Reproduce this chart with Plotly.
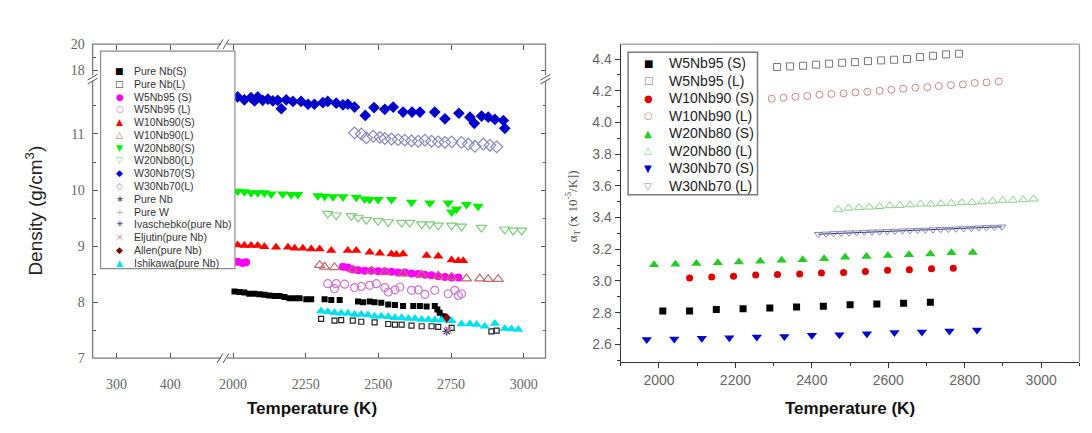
import plotly.graph_objects as go

# ---------------- data: left panel (density) ----------------
pureNb_S_T = [2005,2022,2039,2056,2074,2091,2108,2125,2143,2160,2177,2194,2212,2229,2252,2269,2315,2338,2367,2430,2447,2470,2487,2510,2534,2557,2585,2620,2643,2666,2694,2703,2711,2723,2729]
pureNb_S_D = [8.19,8.18,8.17,8.15,8.15,8.14,8.13,8.12,8.11,8.11,8.09,8.07,8.07,8.07,8.05,8.05,8.05,8.04,8.04,8.01,8.00,8.01,8.00,7.99,7.96,7.95,7.93,7.93,7.93,7.92,7.93,7.87,7.81,7.75,7.72]
pureNb_L_T = [2303,2349,2372,2412,2441,2487,2534,2557,2580,2614,2649,2683,2706,2752,2889,2907]
pureNb_L_D = [7.70,7.67,7.68,7.67,7.65,7.64,7.61,7.60,7.60,7.58,7.57,7.57,7.56,7.54,7.48,7.49]
w5_S_T = [2016,2033,2045,2378,2395,2412,2430,2453,2476,2499,2522,2545,2568,2591,2614,2637,2660,2683,2706,2729,2752,2775]
w5_S_D = [8.72,8.70,8.71,8.63,8.62,8.58,8.57,8.56,8.56,8.55,8.55,8.54,8.53,8.53,8.51,8.50,8.49,8.48,8.46,8.45,8.44,8.44]
w5_L_T = [2326,2349,2355,2384,2418,2441,2470,2493,2522,2534,2557,2574,2614,2637,2660,2694,2740,2763,2775,2786]
w5_L_D = [8.33,8.24,8.33,8.32,8.26,8.28,8.30,8.33,8.26,8.18,8.22,8.27,8.21,8.22,8.14,8.21,8.15,8.21,8.12,8.15]
w10_S_T = [2016,2039,2062,2085,2108,2148,2189,2212,2240,2269,2298,2338,2395,2424,2470,2505,2545,2562,2585,2666,2706,2752,2775,2792]
w10_S_D = [9.02,9.01,9.01,9.01,8.99,8.98,8.98,8.96,8.96,8.95,8.95,8.92,8.92,8.92,8.89,8.87,8.86,8.85,8.86,8.83,8.82,8.75,8.74,8.74]
w10_L_T = [2298,2315,2349,2412,2476,2522,2585,2649,2706,2752,2803,2849,2878,2912]
w10_L_D = [8.66,8.63,8.62,8.58,8.56,8.53,8.51,8.49,8.47,8.45,8.42,8.42,8.41,8.41]
w20_S_T = [2016,2039,2062,2085,2108,2131,2171,2200,2223,2292,2315,2344,2378,2424,2453,2470,2499,2545,2614,2677,2740,2752,2769,2803,2843]
w20_S_D = [9.98,9.97,9.95,9.95,9.95,9.93,9.93,9.92,9.92,9.90,9.89,9.88,9.88,9.87,9.84,9.83,9.83,9.83,9.78,9.77,9.77,9.61,9.66,9.74,9.71]
w20_L_T = [2326,2355,2407,2430,2459,2499,2534,2580,2608,2649,2677,2706,2752,2786,2855,2935,2964,2993]
w20_L_D = [9.58,9.55,9.54,9.51,9.47,9.45,9.43,9.42,9.42,9.39,9.39,9.37,9.37,9.35,9.33,9.30,9.28,9.28]
w30_S_T = [2016,2039,2062,2074,2085,2102,2120,2137,2154,2166,2183,2206,2234,2258,2280,2309,2326,2355,2378,2395,2418,2455,2485,2522,2551,2585,2616,2643,2694,2729,2777,2815,2830,2855,2878,2901,2930,2935]
w30_S_D = [11.66,11.61,11.65,11.59,11.66,11.60,11.62,11.59,11.60,11.45,11.61,11.58,11.58,11.53,11.53,11.56,11.58,11.55,11.52,11.53,11.48,11.33,11.47,11.44,11.48,11.39,11.39,11.39,11.39,11.27,11.37,11.30,11.19,11.32,11.30,11.26,11.24,11.10]
w30_L_T = [2418,2441,2459,2482,2505,2522,2545,2568,2591,2614,2637,2660,2683,2706,2729,2752,2786,2809,2832,2861,2884,2907]
w30_L_D = [11.02,11.00,10.93,10.96,10.94,10.92,10.91,10.90,10.89,10.88,10.87,10.89,10.87,10.86,10.85,10.86,10.85,10.82,10.78,10.82,10.80,10.77]
ivaschenko_T = [2735]
ivaschenko_D = [7.48]
eljutin_T = [2741]
eljutin_D = [7.50]
allen_T = [2735]
allen_D = [7.71]
ishikawa_T = [2303,2326,2349,2372,2395,2418,2441,2464,2487,2510,2534,2557,2580,2603,2626,2649,2672,2694,2717,2752,2786,2815,2838,2866,2901,2935,2958,2981]
ishikawa_D = [7.84,7.83,7.81,7.80,7.80,7.78,7.78,7.77,7.75,7.75,7.74,7.72,7.72,7.71,7.71,7.69,7.69,7.68,7.68,7.67,7.61,7.61,7.60,7.57,7.62,7.53,7.52,7.51]

# ---------------- data: right panel (alpha_T) ----------------
r_w5_S_T = [2010,2080,2150,2220,2290,2360,2430,2500,2570,2640,2710]
r_w5_S = [2.81,2.81,2.82,2.825,2.83,2.835,2.84,2.85,2.855,2.86,2.865]
r_w5_L_T = [2309,2343,2377,2411,2445,2479,2513,2547,2581,2615,2649,2683,2717,2751,2785]
r_w5_L = [4.35,4.354,4.358,4.365,4.371,4.377,4.381,4.387,4.392,4.396,4.40,4.413,4.421,4.43,4.434]
r_w10_S_T = [2080,2138,2195,2253,2310,2368,2425,2483,2540,2598,2655,2713,2770]
r_w10_S = [3.018,3.025,3.03,3.037,3.04,3.044,3.05,3.054,3.06,3.067,3.07,3.077,3.08]
r_w10_L_T = [2295,2326,2357,2388,2420,2451,2483,2514,2545,2577,2608,2639,2671,2702,2732,2764,2795,2826,2857,2889]
r_w10_L = [4.15,4.156,4.163,4.167,4.175,4.18,4.184,4.19,4.194,4.20,4.207,4.213,4.22,4.223,4.23,4.236,4.24,4.249,4.253,4.259]
r_w20_S_T = [1987,2043,2098,2154,2209,2265,2321,2376,2432,2487,2543,2599,2654,2710,2765,2821]
r_w20_S = [3.103,3.105,3.11,3.115,3.12,3.125,3.13,3.134,3.14,3.15,3.155,3.16,3.166,3.17,3.178,3.18]
r_w20_L_T = [2469,2496,2523,2550,2577,2604,2630,2657,2684,2711,2738,2765,2792,2819,2846,2873,2899,2926,2953,2980]
r_w20_L = [3.452,3.46,3.464,3.466,3.47,3.475,3.477,3.481,3.485,3.485,3.488,3.49,3.494,3.496,3.50,3.504,3.509,3.509,3.513,3.517]
r_w30_S_T = [1968,2040,2112,2184,2256,2328,2400,2472,2544,2616,2688,2760,2832]
r_w30_S = [2.63,2.634,2.638,2.642,2.646,2.65,2.657,2.66,2.667,2.674,2.678,2.684,2.69]
r_w30_L_T = [2417,2437,2457,2477,2497,2517,2537,2557,2577,2597,2617,2637,2657,2677,2697,2717,2737,2757,2777,2797,2817,2837,2857,2877,2897]
r_w30_L = [3.295,3.297,3.300,3.302,3.304,3.305,3.308,3.310,3.311,3.313,3.315,3.317,3.318,3.320,3.322,3.324,3.326,3.327,3.329,3.331,3.333,3.336,3.338,3.340,3.342]

# ---------------- geometry (pixels inside the figure) ----------------
# figure kept a little smaller than the window so that the page's default
# body margin never produces scrollbars
W, H = 1076, 417
def fx(p): return p / W
def fy(p): return 1 - p / H

LX0, LXB, LX1 = 80, 212, 535
LY0, LYB, LY1 = 30.3, 65.5, 356
RX0, RX1, RY0, RY1 = 610.6, 1071.4, 30.3, 360.2

GLYPH = {"square": "■", "square-open": "□", "circle": "●", "circle-open": "○",
         "triangle-up": "▲", "triangle-up-open": "△", "triangle-down": "▼",
         "triangle-down-open": "▽", "diamond": "◆", "diamond-open": "◇",
         "star": "★", "cross-thin-open": "+", "asterisk-open": "✳", "x-thin-open": "×"}

left_series = [
    ("Pure Nb(S)", pureNb_S_T, pureNb_S_D, "square", "#000000", 6),
    ("Pure Nb(L)", pureNb_L_T, pureNb_L_D, "square-open", "#222222", 5),
    ("W5Nb95 (S)", w5_S_T, w5_S_D, "circle", "#ff00ff", 8),
    ("W5Nb95 (L)", w5_L_T, w5_L_D, "circle-open", "#cc77cc", 8),
    ("W10Nb90(S)", w10_S_T, w10_S_D, "triangle-up", "#ff0000", 9),
    ("W10Nb90(L)", w10_L_T, w10_L_D, "triangle-up-open", "#c06a6a", 9),
    ("W20Nb80(S)", w20_S_T, w20_S_D, "triangle-down", "#00ee00", 10),
    ("W20Nb80(L)", w20_L_T, w20_L_D, "triangle-down-open", "#7ccc7c", 9),
    ("W30Nb70(S)", w30_S_T, w30_S_D, "diamond", "#0000cc", 9),
    ("W30Nb70(L)", w30_L_T, w30_L_D, "diamond-open", "#8888bb", 9),
    ("Pure Nb", [], [], "star", "#666666", 7),
    ("Pure W", [], [], "cross-thin-open", "#aaaaaa", 7),
    ("Ivaschebko(pure Nb)", ivaschenko_T, ivaschenko_D, "asterisk-open", "#333377", 7),
    ("Eljutin(pure Nb)", eljutin_T, eljutin_D, "x-thin-open", "#cc8888", 7),
    ("Allen(pure Nb)", allen_T, allen_D, "diamond", "#800000", 8),
    ("Ishikawa(pure Nb)", ishikawa_T, ishikawa_D, "triangle-up", "#00e0f0", 9),
]

right_series = [
    ("W5Nb95 (S)", r_w5_S_T, r_w5_S, "square", "#000000", 7),
    ("W5Nb95 (L)", r_w5_L_T, r_w5_L, "square-open", "#777777", 7),
    ("W10Nb90 (S)", r_w10_S_T, r_w10_S, "circle", "#dd0000", 7),
    ("W10Nb90 (L)", r_w10_L_T, r_w10_L, "circle-open", "#c08888", 7),
    ("W20Nb80 (S)", r_w20_S_T, r_w20_S, "triangle-up", "#22cc22", 9),
    ("W20Nb80 (L)", r_w20_L_T, r_w20_L, "triangle-up-open", "#88d088", 8),
    ("W30Nb70 (S)", r_w30_S_T, r_w30_S, "triangle-down", "#0000cc", 9),
    ("W30Nb70 (L)", r_w30_L_T, r_w30_L, "triangle-down-open", "#8888bb", 7),
]

fig = go.Figure()

# empty traces that create the broken-axis subplots
for xa, ya in [("x2", "y2"), ("x3", "y3"), ("x4", "y4")]:
    fig.add_trace(go.Scatter(x=[], y=[], xaxis=xa, yaxis=ya, showlegend=False, hoverinfo="skip"))

for name, T, D, sym, col, sz in left_series:
    if not T:
        continue
    op = sym.endswith("open")
    fig.add_trace(go.Scatter(
        x=T, y=D, mode="markers", name=name, showlegend=False, xaxis="x", yaxis="y",
        marker=dict(symbol=sym, size=sz, color=col,
                    line=dict(width=1.2 if op else 0, color=col))))

# fit line through W30Nb70 (L)
fig.add_trace(go.Scatter(x=r_w30_L_T, y=r_w30_L, mode="lines", showlegend=False,
                         line=dict(color="#2a2a70", width=1), xaxis="x5", yaxis="y5"))
for name, T, D, sym, col, sz in right_series:
    op = sym.endswith("open")
    fig.add_trace(go.Scatter(
        x=T, y=D, mode="markers", name=name, showlegend=False, xaxis="x5", yaxis="y5",
        marker=dict(symbol=sym, size=sz, color=col,
                    line=dict(width=1.0 if op else 0, color=col))))

serif = dict(family="Liberation Serif", size=14, color="#666666")
sans_tick = dict(family="Liberation Sans", size=14, color="#666666")
common = dict(showgrid=False, zeroline=False, showline=False)

xB_range = [1969, 3075]
xA_range = [255.6, 500]
yL_range = [7, 11.996]
yU_range = [17.38, 20]
xB_ticks = [2000, 2250, 2500, 2750, 3000]
xA_ticks = [300, 400]
yL_ticks = [7, 8, 9, 10, 11]
yL_minor = [7.5, 8.5, 9.5, 10.5, 11.5]
yU_ticks = [18, 20]
yU_minor = [19]

fig.update_layout(
    width=W, height=H, margin=dict(l=0, r=0, t=0, b=0),
    paper_bgcolor="white", plot_bgcolor="white", showlegend=False,
    xaxis=dict(domain=[fx(LXB), fx(LX1)], anchor="y", range=xB_range,
               tickvals=xB_ticks, ticks="inside", ticklen=5,
               tickcolor="#555", tickfont=serif, ticklabelstandoff=16, **common),
    xaxis2=dict(domain=[fx(LX0), fx(LXB)], anchor="y", range=xA_range,
                tickvals=xA_ticks, ticks="inside", ticklen=5, tickcolor="#555",
                tickfont=serif, ticklabelstandoff=16, **common),
    xaxis3=dict(overlaying="x", side="top", anchor="free", position=fy(LY0),
                range=xB_range, tickvals=xB_ticks,
                ticks="inside", ticklen=5, tickcolor="#555", showticklabels=False, **common),
    xaxis4=dict(overlaying="x2", side="top", anchor="free", position=fy(LY0),
                range=xA_range, tickvals=xA_ticks, ticks="inside", ticklen=5,
                tickcolor="#555", showticklabels=False, **common),
    yaxis=dict(domain=[fy(LY1), fy(LYB)], anchor="x2", range=yL_range,
               tickvals=yL_ticks, ticks="inside", ticklen=5, tickcolor="#555",
               minor=dict(ticks="inside", ticklen=3, tickvals=yL_minor, tickcolor="#555"),
               tickfont=serif, ticklabelstandoff=7, **common),
    yaxis2=dict(domain=[fy(LYB), fy(LY0)], anchor="x2", range=yU_range,
                tickvals=yU_ticks, ticks="inside", ticklen=5, tickcolor="#555",
                minor=dict(ticks="inside", ticklen=3, tickvals=yU_minor, tickcolor="#555"),
                tickfont=serif, ticklabelstandoff=7, **common),
    yaxis3=dict(overlaying="y", side="right", anchor="free", position=fx(LX1),
                range=yL_range, tickvals=yL_ticks, ticks="inside", ticklen=5,
                tickcolor="#555", showticklabels=False,
                minor=dict(ticks="inside", ticklen=3, tickvals=yL_minor, tickcolor="#555"),
                **common),
    yaxis4=dict(overlaying="y2", side="right", anchor="free", position=fx(LX1),
                range=yU_range, tickvals=yU_ticks, ticks="inside", ticklen=5,
                tickcolor="#555", showticklabels=False, **common),
    xaxis5=dict(domain=[fx(RX0), fx(RX1)], anchor="y5", range=[1900, 3100],
                tick0=2000, dtick=200, ticks="outside", ticklen=5, tickcolor="#333",
                minor=dict(ticks="outside", ticklen=3, dtick=100, tickcolor="#333"),
                showline=True, linecolor="#333", linewidth=1.3,
                showgrid=False, zeroline=False, tickfont=sans_tick),
    yaxis5=dict(domain=[fy(RY1), fy(RY0)], anchor="x5", range=[2.487, 4.494],
                tick0=2.6, dtick=0.2, tickformat=".1f", ticks="outside", ticklen=5,
                tickcolor="#333",
                minor=dict(ticks="outside", ticklen=3, dtick=0.1, tickcolor="#333"),
                showline=True, linecolor="#333", linewidth=1.3,
                showgrid=False, zeroline=False, tickfont=sans_tick),
)

shapes = []
def rect(x0, y0, x1, y1, color, width, fill=None, layer="above"):
    shapes.append(dict(type="rect", xref="paper", yref="paper",
                       x0=fx(x0), x1=fx(x1), y0=fy(y1), y1=fy(y0),
                       line=dict(color=color, width=width),
                       fillcolor=fill if fill else "rgba(0,0,0,0)", layer=layer))
def seg(x0, y0, x1, y1, color="#555", width=1):
    shapes.append(dict(type="line", xref="paper", yref="paper",
                       x0=fx(x0), y0=fy(y0), x1=fx(x1), y1=fy(y1),
                       line=dict(color=color, width=width), layer="above"))

# frames
rect(LX0, LY0, LX1, LY1, "#7a7a7a", 1.3)
seg(RX0, RY0, RX1, RY0, "#9a9a9a", 1.3)
seg(RX1, RY0, RX1, RY1, "#9a9a9a", 1.3)

# axis break marks
def brk_h(x, y):
    shapes.append(dict(type="rect", xref="paper", yref="paper", x0=fx(x - 3), x1=fx(x + 3),
                       y0=fy(y + 2), y1=fy(y - 2), line=dict(width=0), fillcolor="white", layer="above"))
    seg(x - 7, y + 5, x - 1, y - 5)
    seg(x - 1, y + 5, x + 5, y - 5)
def brk_v(x, y):
    shapes.append(dict(type="rect", xref="paper", yref="paper", x0=fx(x - 2), x1=fx(x + 2),
                       y0=fy(y + 3), y1=fy(y - 3), line=dict(width=0), fillcolor="white", layer="above"))
    seg(x - 5, y + 2, x + 5, y - 4)
    seg(x - 5, y + 6, x + 5, y)
brk_h(LXB, LY1)
brk_h(LXB, LY0)
brk_v(LX0, LYB)
brk_v(LX1, LYB)

# legend boxes
rect(88, 37.5, 223, 263, "#8a8a8a", 1.2, fill="white")
rect(618, 38.6, 748, 186.4, "#7a7a7a", 1.5, fill="white")

annotations = []
def ann(x, y, text, font, xanchor="center", yanchor="middle", angle=0):
    annotations.append(dict(xref="paper", yref="paper", x=fx(x), y=fy(y), text=text,
                            showarrow=False, font=font, xanchor=xanchor, yanchor=yanchor,
                            textangle=angle))

# left legend (built from the series list)
for i, (name, T, D, sym, col, sz) in enumerate(left_series):
    yy = 58.2 + i * 13.24
    ann(107, yy, GLYPH[sym], dict(family="DejaVu Sans", size=9, color=col))
    ann(120, yy, name, dict(family="Liberation Sans", size=10.5, color="#333333"), xanchor="left")

# right legend
for i, (name, T, D, sym, col, sz) in enumerate(right_series):
    yy = 50 + i * 18.2
    ann(638, yy, GLYPH[sym], dict(family="DejaVu Sans", size=10, color=col))
    ann(657, yy, name, dict(family="Liberation Sans", size=14, color="#222222"), xanchor="left")

# axis titles
title_font = dict(family="Liberation Sans", size=17, color="#111111")
ann(300, 408, "<b>Temperature (K)</b>", title_font)
ann(841, 408, "<b>Temperature (K)</b>", title_font)
ann(21, 203, "Density (g/cm<sup>3</sup>)", dict(family="Liberation Sans", size=19, color="#222222"), angle=-90)
ann(562, 198, "α<sub>T</sub> (<b>x</b> 10<sup>-5</sup>/K])", dict(family="Liberation Serif", size=13, color="#555555"), angle=-90)

fig.update_layout(shapes=shapes, annotations=annotations)
fig.write_html("out.html")
